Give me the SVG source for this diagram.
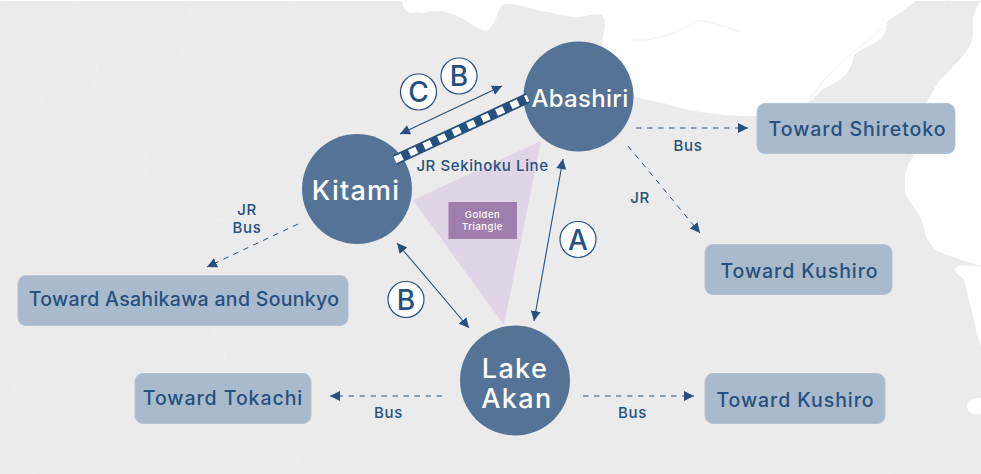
<svg xmlns="http://www.w3.org/2000/svg" width="981" height="474" viewBox="0 0 981 474">
<style>
.t{font-family:"Inter","Liberation Sans",sans-serif;fill:#26507f}
.box{font-size:19.500px;font-weight:500;letter-spacing:.95px;text-anchor:middle}
.lab{font-size:15px;font-weight:500;letter-spacing:.6px;text-anchor:middle}
.n{font-family:"Inter","Liberation Sans",sans-serif;fill:#fff;font-weight:500;text-anchor:middle}
.c{fill:#557396}
.r{fill:#a9bacc;stroke:#b4c3d3;stroke-width:1}
.s{fill:none;stroke:#26507f;stroke-width:1.1}
.d{stroke-width:1;stroke-dasharray:5.500 5.500}
.ci{fill:#fff;stroke:#26507f;stroke-width:1.2}
.cl{font-family:"Inter","Liberation Sans",sans-serif;fill:#26507f;font-size:28px;font-weight:500;text-anchor:middle}
.p{fill:none;stroke:#efefef;stroke-width:.8}
</style>
<defs>
<marker id="e" markerUnits="userSpaceOnUse" markerWidth="12" markerHeight="10" refX="10" refY="5" orient="auto"><path d="M0 0L10 5L0 10Z" fill="#26507f"/></marker>
<marker id="st" markerUnits="userSpaceOnUse" markerWidth="12" markerHeight="10" refX="0" refY="5" orient="auto"><path d="M10 0L0 5L10 10Z" fill="#26507f"/></marker>
</defs>
<g id="map">
<rect width="981" height="474" fill="#fff"/>
<path fill="#ebebeb" d="M1 1H402C403 8 406 13 412 13C417 11 420 14 424 13C432 10 442 10 448 13C456 14 462 19 468 22C476 28 484 32 488 30C493 26 495 20 497 16C499 8 502 4 507 4C514 4 520 5 526 7C534 10 540 11 547 12C558 14 570 18 580 17C588 16 596 13 601 15C606 18 605 26 604 32L602 44L633 95C643 100 653 101 663 103C680 108 700 113 725 115C738 116 748 116 757 116L790 112C798 110 804 106 810 102C817 96 820 90 827 87C838 82 846 76 850 68C854 60 852 56 856 53C866 47 880 42 884 34C888 28 885 24 889 20C897 14 908 8 916 1H981V1C976 8 973 14 973 22C973 32 974 42 966 52C958 62 948 72 940 80C934 88 930 96 926 104L913 157C908 164 905 170 905 178C905 188 904 194 908 199C914 207 920 214 923 224C925 232 926 238 928 240C932 247 936 251 944 254C954 257 968 262 981 266V267C970 265 958 264 955 269C954 272 960 276 963 278C966 282 966 290 968 298C972 310 975 325 978 338L981 347V398H976C970 398 967 402 967 406C967 411 971 414 976 414H981V474H0V0Z"/>
<g class="p">
<path d="M74 0C84 6 84 20 85 40C88 52 97 58 97 70C95 84 92 98 91 110"/>
<path d="M0 60C14 60 26 62 30 72C36 84 40 92 41 102C47 110 54 116 60 116C66 108 74 104 80 106C86 110 94 110 102 110C112 108 120 100 128 102C134 108 146 106 158 116"/>
<path d="M41 102C30 112 26 122 27 135C26 142 24 148 20 155"/>
<path d="M0 130C14 134 20 146 22 158C26 176 34 190 36 205C38 218 38 224 39 228"/>
<path d="M0 192C10 194 18 200 26 202M0 222C12 228 22 229 39 228C54 228 72 226 85 225C90 232 92 240 100 240"/>
<path d="M190 0C192 14 190 30 184 44C182 60 178 72 176 78C170 96 164 106 158 116C148 128 140 136 142 146C146 158 148 164 145 174C140 186 146 196 158 204C170 208 178 204 186 198C194 192 202 190 204 198C204 210 206 218 214 220C224 222 230 216 236 198C250 190 272 178 300 172"/>
<path d="M184 74C198 72 214 62 226 58C240 54 256 52 262 44C266 34 268 26 276 18C280 14 286 8 290 0C290 14 294 22 304 30C314 38 322 34 330 30C340 28 348 24 348 32C348 44 348 60 351 70C358 80 368 76 380 70C388 66 396 60 402 56"/>
<path d="M353 78C355 90 355 100 355 112C354 122 352 130 352 134M356 102C368 100 380 102 386 112C390 124 388 132 400 134"/>
<path d="M236 212C226 216 214 224 195 232C195 240 197 250 205 262"/>
<path d="M0 338C14 348 20 362 28 368C40 358 50 346 62 326M150 325C152 338 154 344 150 358C148 362 140 370 136 380M100 322C96 326 90 340 100 352"/>
<path d="M25 368C14 390 6 400 8 420C14 428 34 436 50 440C54 446 46 452 42 458C36 466 30 470 34 474M0 375C14 372 18 388 12 396"/>
<path d="M178 450L296 456C300 460 296 470 290 474M190 427C182 442 178 456 180 465M215 322C214 332 216 344 224 348C226 356 224 362 222 368M318 325C325 338 335 350 350 350C362 350 372 348 374 340"/>
<path d="M630 40C660 42 680 30 700 20C718 24 730 28 740 32M620 130C660 134 706 116 720 114C718 130 716 142 720 150C738 146 744 162 744 176C754 186 766 194 778 200C796 190 806 182 808 176C820 174 832 172 835 180C836 190 840 178 845 172C852 166 846 152 846 150M778 200C780 214 780 224 784 234M784 234C800 224 820 226 850 240M800 120C820 70 860 50 880 30C920 10 940 5 950 0"/>
<path d="M720 294C726 308 726 320 722 340C718 356 716 366 715 372M770 294C786 312 800 326 800 333C825 338 850 342 862 340C876 334 888 328 891 316C888 306 890 302 900 298C915 294 930 288 958 270M880 262C890 276 900 284 920 296M800 333C770 346 754 356 753 370C755 378 756 382 757 373"/>
<path d="M750 423C765 440 790 446 800 464C812 440 830 445 850 440C860 462 880 466 890 474M905 436C905 445 915 465 930 460C945 450 960 440 981 430M955 450C958 460 958 468 960 474M680 366C690 368 700 374 705 378"/>
</g>
</g>
<g id="triangle"><path d="M413 200L541 141L504 325Z" fill="#e0d5e6"/></g>
<g id="connectors">
<path class="s" d="M400 134L502 86" marker-start="url(#st)" marker-end="url(#e)"/>
<path class="s" d="M397 243L469 328" marker-start="url(#st)" marker-end="url(#e)"/>
<path class="s" d="M563 159L534 321" marker-start="url(#st)" marker-end="url(#e)"/>
<path class="s d" d="M636 128H748" marker-end="url(#e)"/>
<path class="s d" d="M628 146L700 233" marker-end="url(#e)"/>
<path class="s d" d="M298 224L207 267" marker-end="url(#e)"/>
<path class="s d" d="M442 396H330" marker-end="url(#e)"/>
<path class="s d" d="M583 396H694" marker-end="url(#e)"/>
</g>
<g id="kitami"><circle class="c" cx="357" cy="189" r="55"/><text class="n" x="356" y="200" font-size="27" letter-spacing="1.2">Kitami</text></g>
<g id="abashiri"><circle class="c" cx="578.500" cy="96.500" r="55"/><text class="n" x="580" y="107" font-size="24" letter-spacing=".3">Abashiri</text></g>
<g id="lake-akan"><circle class="c" cx="515" cy="380.500" r="55"/><text class="n" x="515" y="378" font-size="27" letter-spacing="1.4">Lake</text><text class="n" x="517" y="408" font-size="27" letter-spacing="1.4">Akan</text></g>
<g id="rail"><path d="M395 160L528 98" stroke="#26507f" stroke-width="10.500" fill="none"/><path d="M395 160L528 98" stroke="#fff" stroke-width="7" fill="none" stroke-dasharray="8 8"/></g>
<g id="golden-triangle"><rect x="448.500" y="202" width="68.500" height="37" fill="#9f7dad"/><text class="n" x="482.500" y="218" font-size="9.500" letter-spacing=".5">Golden</text><text class="n" x="482.500" y="230" font-size="9.500" letter-spacing=".5">Triangle</text></g>
<g id="toward-shiretoko"><rect class="r" x="757" y="103.500" width="198" height="50" rx="8"/><text class="t box" x="857.500" y="136">Toward Shiretoko</text></g>
<g id="toward-kushiro-1"><rect class="r" x="705" y="244.500" width="187" height="50" rx="8"/><text class="t box" x="799.500" y="278">Toward Kushiro</text></g>
<g id="toward-kushiro-2"><rect class="r" x="705" y="373.500" width="180" height="50" rx="8"/><text class="t box" x="795.500" y="407">Toward Kushiro</text></g>
<g id="toward-asahikawa"><rect class="r" x="18" y="275.500" width="330" height="50" rx="8"/><text class="t box" x="184" y="306" style="letter-spacing:.3px">Toward Asahikawa and Sounkyo</text></g>
<g id="toward-tokachi"><rect class="r" x="135" y="373.500" width="176" height="50" rx="8"/><text class="t box" x="223" y="405">Toward Tokachi</text></g>
<g id="labels">
<text class="t lab" x="688" y="151">Bus</text>
<text class="t lab" x="640" y="203">JR</text>
<text class="t lab" x="247" y="215">JR</text>
<text class="t lab" x="247" y="233">Bus</text>
<text class="t lab" x="388.500" y="418">Bus</text>
<text class="t lab" x="632.500" y="418">Bus</text>
<text class="t lab" x="482.500" y="171">JR Sekihoku Line</text>
</g>
<g id="badge-c"><circle class="ci" cx="418.500" cy="92" r="18"/><text class="cl" x="418.500" y="102">C</text></g>
<g id="badge-b1"><circle class="ci" cx="459" cy="76" r="18"/><text class="cl" x="459" y="86">B</text></g>
<g id="badge-a"><circle class="ci" cx="578" cy="239.500" r="18"/><text class="cl" x="578" y="249.500">A</text></g>
<g id="badge-b2"><circle class="ci" cx="406" cy="299.500" r="18"/><text class="cl" x="406" y="309.500">B</text></g>
</svg>
